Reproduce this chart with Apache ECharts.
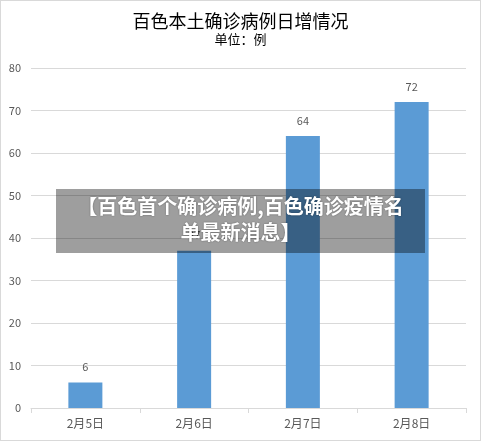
<!DOCTYPE html>
<html><head><meta charset="utf-8">
<script src="https://cdn.jsdelivr.net/npm/echarts@6/dist/echarts.min.js"></script>
<style>html,body{margin:0;padding:0;background:#fff}#c{width:481px;height:441px;box-sizing:border-box;border:1px solid #d9d9d9}</style>
</head><body><div id="c"></div>
<script>
const categories = ['2月5日','2月6日','2月7日','2月8日'];
const values = [6, 37, 64, 72];
const titleText = '百色本土确诊病例日增情况';
const subtitleText = '单位：例';
const overlayLines = ['【百色首个确诊病例,百色确诊疫情名', '单最新消息】'];

const chart = echarts.init(document.getElementById('c'), null, {renderer:'canvas'});
const font = '"Microsoft YaHei","Noto Sans CJK SC",sans-serif';
chart.setOption({
  animation:false,
  title:{text:titleText, subtext:subtitleText, left:'center', top:6, itemGap:3,
    textStyle:{fontSize:18, fontWeight:'normal', color:'#000', fontFamily:font},
    subtextStyle:{fontSize:13, color:'#000', fontFamily:font}},
  grid:{left:30, right:14, top:67, bottom:32},
  xAxis:{type:'category', data:categories,
    axisLine:{lineStyle:{color:'#d9d9d9'}},
    axisTick:{show:true, length:5, lineStyle:{color:'#d9d9d9'}},
    axisLabel:{color:'#595959', fontSize:12, margin:9, fontFamily:font}},
  yAxis:{type:'value', min:0, max:80, interval:10,
    axisLine:{show:false}, axisTick:{show:false},
    splitLine:{lineStyle:{color:'#d9d9d9'}},
    axisLabel:{color:'#595959', fontSize:11, margin:10, fontFamily:font}},
  series:[{type:'bar', data:values, barWidth:34,
    itemStyle:{color:'#5b9bd5'},
    label:{show:true, position:'top', distance:10, color:'#595959', fontSize:11, fontFamily:font}}],
  graphic:[
    {type:'rect', left:55, top:188, shape:{width:369, height:64}, style:{fill:'rgba(0,0,0,0.38)'}, z:100},
    {type:'text', left:'center', top:192, z:101,
      style:{text:overlayLines.join('\n'), fill:'#fff', font:'bold 20px '+font, textAlign:'center', lineHeight:26,
        textShadowColor:'rgba(0,0,0,0.4)', textShadowBlur:2}}
  ]
});
</script></body></html>
